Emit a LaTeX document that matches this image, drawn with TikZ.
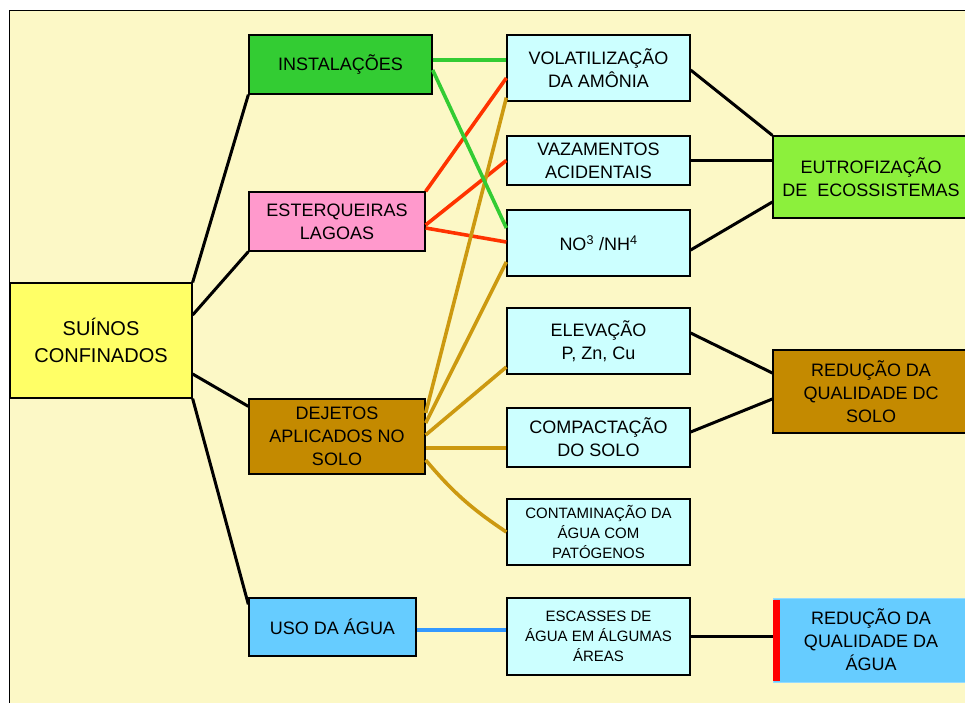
\documentclass[tikz,border=0pt]{standalone}
\usepackage{fontspec}
\setmainfont{Liberation Sans}
\usetikzlibrary{calc}

\definecolor{pagebg}{HTML}{FCF8C6}
\definecolor{pigyellow}{HTML}{FFFF66}
\definecolor{instgreen}{HTML}{33CC33}
\definecolor{lagoapink}{HTML}{FF99CC}
\definecolor{soilbrown}{HTML}{C48A00}
\definecolor{watblue}{HTML}{66CCFF}
\definecolor{effcyan}{HTML}{CCFFFF}
\definecolor{eutlime}{HTML}{8CF03C}
\definecolor{goldline}{HTML}{CC9910}
\definecolor{redline}{HTML}{FF3300}
\definecolor{blueline}{HTML}{3399FF}

\begin{document}
\begin{tikzpicture}[
    x=1pt, y=-1pt,
    box/.style = {
        draw,
        line width=1.3pt,
        align=center,
        inner sep=0pt,
        font=\fontsize{18}{23}\selectfont,
      },
    effect/.style = {box, fill=effcyan, minimum width=183pt},
    result/.style = {box, minimum width=196pt},
    small/.style = {font=\fontsize{15}{20}\selectfont},
    link/.style = {line width=3pt},
    clink/.style = {line width=3.6pt},
  ]

  \useasboundingbox (0,0) rectangle (965,702);
  \clip (0,0) rectangle (965,702);
  \fill[white] (0,0) rectangle (965,702);
  \draw[fill=pagebg, line width=1pt] (9.6,10) rectangle (990,720);

  % source
  \node[box, fill=pigyellow, minimum width=182pt, minimum height=115pt,
    font=\fontsize{20}{27}\selectfont] (suinos) at (101,340.5) {SUÍNOS\\CONFINADOS};

  % causes
  \node[box, fill=instgreen, minimum width=183pt, minimum height=59pt] (inst) at (340.5,64.5) {INSTALAÇÕES};
  \node[box, fill=lagoapink, minimum width=176pt, minimum height=59pt] (est) at (337,221.5) {ESTERQUEIRAS\\LAGOAS};
  \node[box, fill=soilbrown, minimum width=176pt, minimum height=75pt] (dej) at (337,436.5) {DEJETOS\\APLICADOS NO\\SOLO};
  \node[box, fill=watblue, minimum width=167pt, minimum height=58pt] (uso) at (332.5,627) {USO DA ÁGUA};

  % effects
  \node[effect, minimum height=66pt] (vol) at (598.5,68) {VOLATILIZAÇÃO\\DA AMÔNIA};
  \node[effect, minimum height=49pt] (vaz) at (598.5,160.5) {VAZAMENTOS\\ACIDENTAIS};
  \node[effect, minimum height=66pt] (no) at (598.5,243) {NO\textsuperscript{3} /NH\textsuperscript{4}};
  \node[effect, minimum height=66pt] (ele) at (598.5,341) {ELEVAÇÃO\\P, Zn, Cu};
  \node[effect, minimum height=59pt] (com) at (598.5,437.5) {COMPACTAÇÃO\\DO SOLO};
  \node[effect, small, minimum height=66pt] (con) at (598.5,532) {CONTAMINAÇÃO DA\\ÁGUA COM\\PATÓGENOS};
  \node[effect, small, minimum height=77pt] (esc) at (598.5,636.5) {ESCASSES DE\\ÁGUA EM ÁLGUMAS\\ÁREAS};

  % results
  \node[result, fill=eutlime, minimum height=82pt] (eut) at (871,177) {EUTROFIZAÇÃO\\DE\ \ ECOSSISTEMAS};
  \node[result, fill=soilbrown, minimum height=83pt] (reds) at (871,391.5) {REDUÇÃO DA\\QUALIDADE DC\\SOLO};
  \node[result, fill=watblue, draw=watblue!70, line width=1pt, minimum height=84pt] (redw) at (871,640) {REDUÇÃO DA\\QUALIDADE DA\\ÁGUA};
  \fill[red] ([yshift=-2pt]redw.north west) rectangle ([xshift=7pt, yshift=2pt]redw.south west);

  % source to causes
  \draw[link] (suinos.north east) -- (inst.south west);
  \draw[link] ([yshift=25.5pt]suinos.east) -- (est.south west);
  \draw[link] ([yshift=-33.5pt]suinos.east) -- ([yshift=-8pt]dej.north west);
  \draw[link] (suinos.south east) -- ([yshift=-7pt]uso.north west);

  % causes to effects
  \draw[clink, instgreen] ([yshift=4.5pt]inst.east) -- ([yshift=4.5pt]inst.east -| vol.west);
  \draw[clink, redline] (est.north east) -- ([yshift=-10pt]vol.west);
  \draw[clink, redline] ([yshift=-3.5pt]est.east) -- (vaz.west);
  \draw[clink, redline] ([yshift=-6.5pt]est.east) -- ([yshift=1pt]no.west);
  \draw[clink, goldline] ([yshift=23.5pt]dej.east) -- ([yshift=4pt]vol.south west);
  \draw[clink, goldline] ([yshift=13.5pt]dej.east) -- ([yshift=-19pt]no.west);
  \draw[clink, goldline] ([yshift=1.5pt]dej.east) -- ([yshift=-26pt]ele.west);
  \draw[clink, goldline] ([yshift=-11.5pt]dej.east) -- ([yshift=-11.5pt]dej.east -| com.west);
  \draw[clink, goldline] ([yshift=-23.5pt]dej.east) to[bend right=8] (con.west);
  \draw[clink, instgreen] ([yshift=-5.5pt]inst.east) -- ([yshift=15pt]no.west);
  \draw[clink, blueline] ([yshift=-3pt]uso.east) -- ([yshift=-3pt]uso.east -| esc.west);

  % effects to results
  \draw[link] ([yshift=-2pt]vol.east) -- (eut.north west);
  \draw[link] (vaz.east) -- (vaz.east -| eut.west);
  \draw[link] ([yshift=-7pt]no.east) -- ([yshift=-25pt]eut.west);
  \draw[link] ([yshift=8pt]ele.east) -- ([yshift=18.5pt]reds.west);
  \draw[link] ([yshift=5.5pt]com.east) -- ([yshift=-7.5pt]reds.west);
  \draw[link] (esc.east) -- (esc.east -| redw.west);

\end{tikzpicture}
\end{document}
